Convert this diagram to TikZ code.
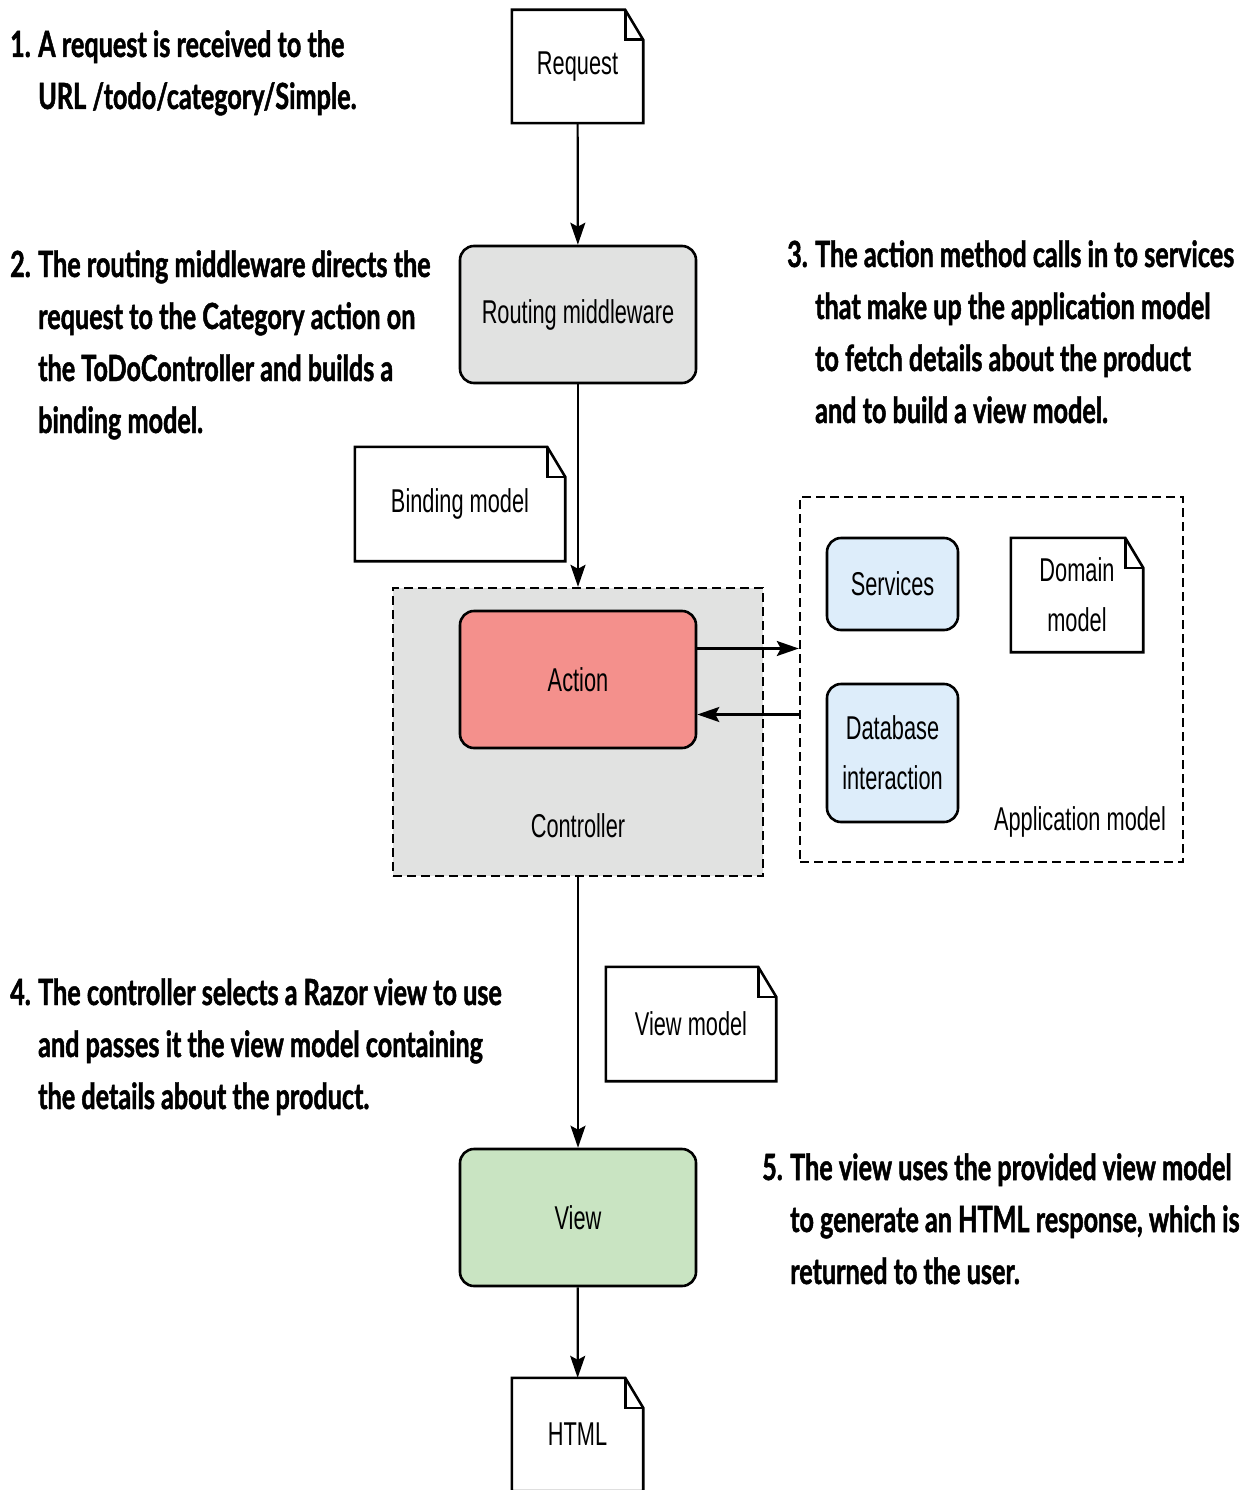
\documentclass[tikz,border=0pt]{standalone}
\usepackage{fontspec}
\newfontfamily\boxfont[FakeStretch=0.66]{Liberation Sans}
\newfontfamily\notefont[FakeStretch=0.70,BoldFeatures={FakeBold=1.3}]{Lato}
\usetikzlibrary{arrows.meta,positioning}

\definecolor{ctrlgray}{RGB}{225,226,225}
\definecolor{actred}{RGB}{244,144,140}
\definecolor{svcblue}{RGB}{221,237,250}
\definecolor{viewgreen}{RGB}{201,228,194}

% outline of a document with a folded corner
\newcommand{\docline}[1]{%
 \draw[line width=2.6pt] (#1.north west) -- ([xshift=-18pt]#1.north east) -- ([yshift=-30pt]#1.north east) -- (#1.south east) -- (#1.south west) -- cycle;
 \draw[line width=2.6pt] ([xshift=-18pt]#1.north east) |- ([yshift=-30pt]#1.north east);}
% numbered note with hanging lines
\newcommand{\numbered}[2]{\makebox[28pt][l]{#1}\begin{tabular}[t]{@{}l@{}}#2\end{tabular}}

\begin{document}
\begin{tikzpicture}[x=1pt,y=-1pt,
 font=\boxfont\fontsize{33}{50}\selectfont,
 rbox/.style={draw,rounded corners=14pt,line width=2.6pt,minimum width=236pt,minimum height=137pt},
 doc/.style={minimum width=131pt,minimum height=113pt,inner sep=0pt},
 grp/.style={draw,dash pattern=on 9pt off 5pt,line width=2.4pt},
 note/.style={anchor=base west,inner sep=0pt,font=\notefont\bfseries\fontsize{36}{52}\selectfont},
 arr/.style={line width=2.2pt,-{Stealth[length=22pt,width=15pt,inset=4pt]}}]
\useasboundingbox (0,0) rectangle (1245,1490);

\node[doc] (req) at (577.5,66.5) {Request}; \docline{req}
\node[rbox,fill=ctrlgray] (rout) at (578,314.5) {Routing middleware};
\node[doc,minimum width=210pt,minimum height=114pt] (bind) at (460,504) {Binding model}; \docline{bind}

\node[grp,fill=ctrlgray,minimum width=370pt,minimum height=288pt] (ctrl) at (578,732) {};
\node (ctrllbl) at (578,826) {Controller};
\node[rbox,fill=actred] (act) at (578,679.5) {Action};

\node[grp,minimum width=383pt,minimum height=365pt] (app) at (991.5,679.5) {};
\node[rbox,fill=svcblue,minimum width=131pt,minimum height=92pt] (svc) at (892.5,584) {Services};
\node[doc,align=center,minimum width=132pt,minimum height=114pt] (dom) at (1077,595) {Domain\\model}; \docline{dom}
\node[rbox,fill=svcblue,minimum width=131pt,minimum height=138pt,align=center] (db) at (892.5,753) {Database\\interaction};
\node (applbl) at (1080,822) {Application model};

\node[doc,minimum width=170pt,minimum height=114pt] (vm) at (691,1024) {View model}; \docline{vm}
\node[rbox,fill=viewgreen] (view) at (578,1217.5) {View};
\node[doc] (html) at (577.5,1434.5) {HTML}; \docline{html}

\draw[arr] (req) -- (rout);
\draw[arr] (rout) -- (ctrl);
\draw[arr] (ctrl) -- (view);
\draw[arr] (view) -- (html);
\draw[arr] ([yshift=31pt]act.east) -- ([yshift=31pt]act.east -| app.west);
\draw[arr] ([yshift=-35pt]act.east -| app.west) -- ([yshift=-35pt]act.east);

\node[note] (n1) at (10,57) {\numbered{1.}{A request is received to the\\URL /todo/category/Simple.}};
\node[note] (n2) at (10,277) {\numbered{2.}{The routing middleware directs the\\request to the Category action on\\the ToDoController and builds a\\binding model.}};
\node[note] (n3) at (787,267) {\numbered{3.}{The action method calls in to services\\that make up the application model\\to fetch details about the product\\and to build a view model.}};
\node[note] (n4) at (10,1005) {\numbered{4.}{The controller selects a Razor view to use\\and passes it the view model containing\\the details about the product.}};
\node[note] (n5) at (762,1180) {\numbered{5.}{The view uses the provided view model\\to generate an HTML response, which is\\returned to the user.}};
\end{tikzpicture}
\end{document}
